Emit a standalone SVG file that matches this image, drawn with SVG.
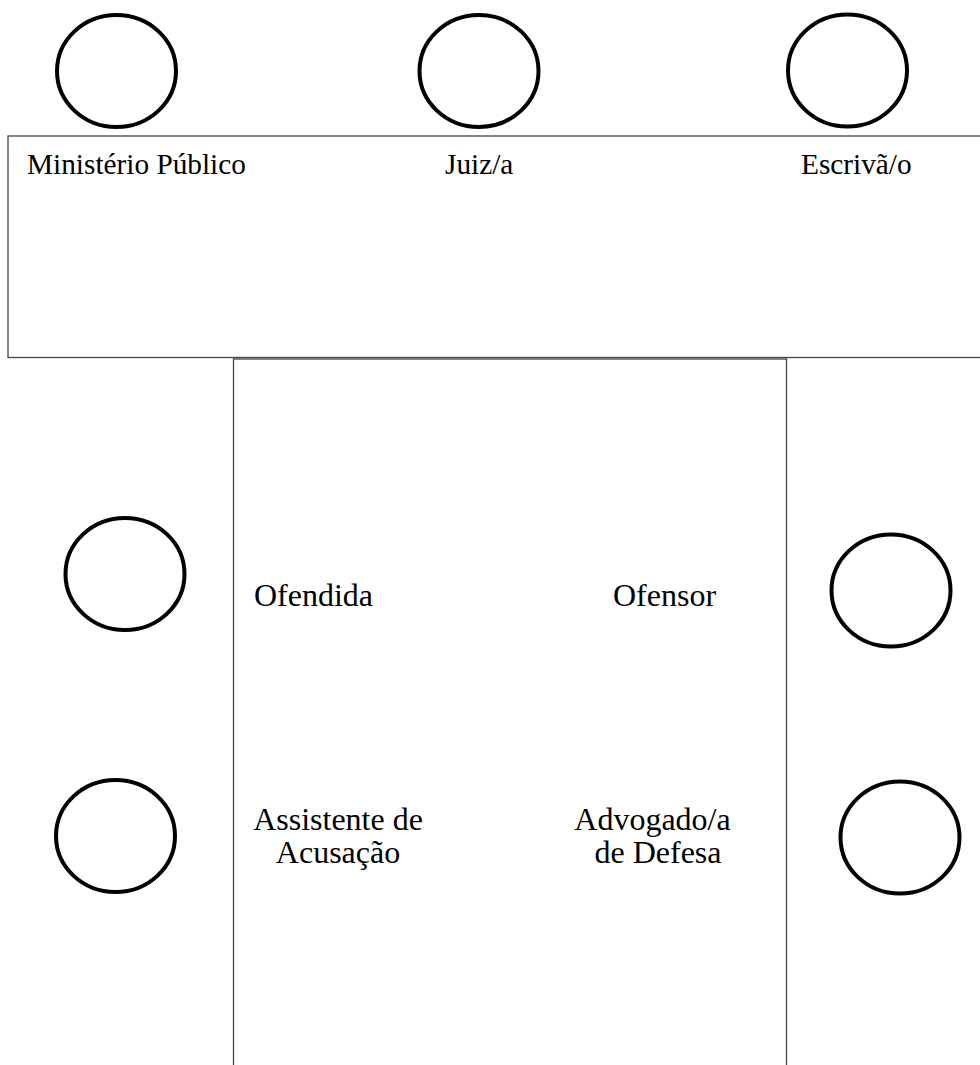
<svg xmlns="http://www.w3.org/2000/svg" width="980" height="1065" viewBox="0 0 980 1065">
<style>
.seat{fill:none;stroke:#000;stroke-width:4}
.box{fill:none;stroke:#444;stroke-width:1.3}
text{font-family:"Liberation Serif","Times New Roman",serif;font-size:29.3px;fill:#000}
.big{font-size:32px}
</style>
<rect width="980" height="1065" fill="#fff"/>
<g id="tables">
<rect id="bench" class="box" x="8" y="136" width="980" height="221.5"/>
<rect id="floor" class="box" x="233.5" y="359" width="553" height="720"/>
</g>
<g id="seat-mp"><ellipse class="seat" cx="116.5" cy="71" rx="59.5" ry="56"/></g>
<g id="seat-juiz"><ellipse class="seat" cx="479" cy="71" rx="59.5" ry="56"/></g>
<g id="seat-escriva"><ellipse class="seat" cx="847.5" cy="70.5" rx="59.5" ry="56"/></g>
<g id="seat-ofendida"><ellipse class="seat" cx="125" cy="574" rx="59.5" ry="56"/></g>
<g id="seat-assistente"><ellipse class="seat" cx="115.5" cy="836" rx="59.5" ry="56"/></g>
<g id="seat-ofensor"><ellipse class="seat" cx="891" cy="590.5" rx="59.5" ry="56"/></g>
<g id="seat-advogado"><ellipse class="seat" cx="900" cy="837.5" rx="59.5" ry="56"/></g>
<g id="labels">
<text x="27" y="174">Ministério Público</text>
<text x="445" y="174">Juiz/a</text>
<text x="801" y="174">Escrivã/o</text>
<text class="big" x="254" y="605.5">Ofendida</text>
<text class="big" x="613" y="605.5">Ofensor</text>
<text class="big" x="338" y="830" text-anchor="middle">Assistente de</text>
<text class="big" x="338" y="863" text-anchor="middle">Acusação</text>
<text class="big" x="652.5" y="830" text-anchor="middle">Advogado/a</text>
<text class="big" x="658" y="863" text-anchor="middle">de Defesa</text>
</g>
</svg>
